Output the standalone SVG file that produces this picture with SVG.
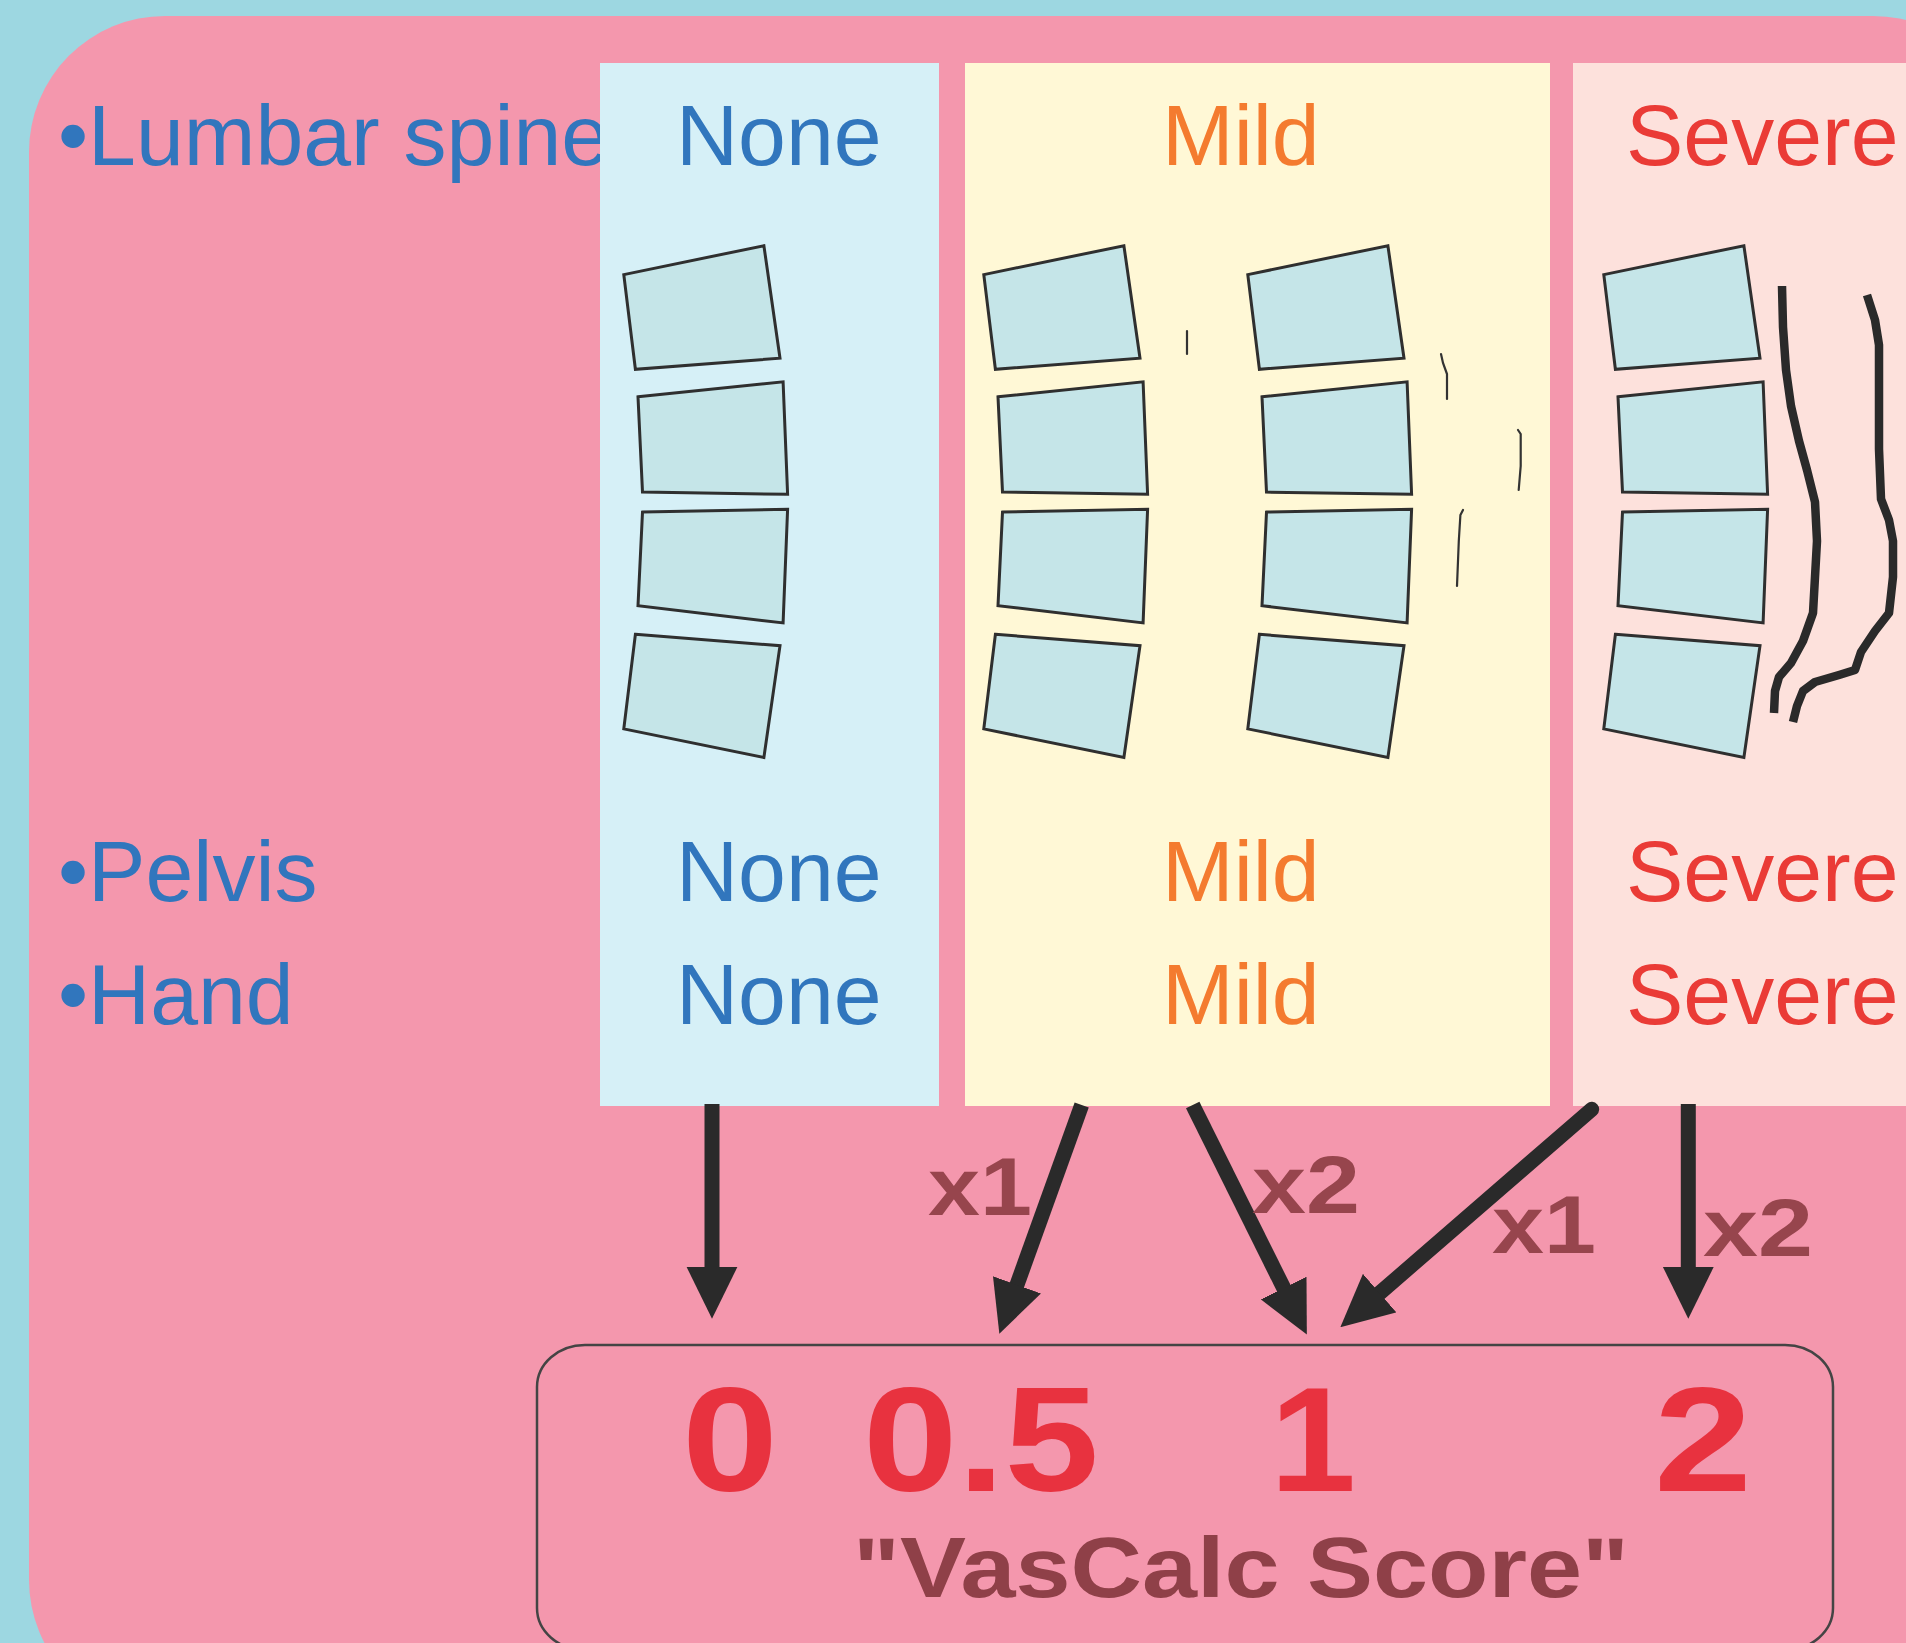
<svg xmlns="http://www.w3.org/2000/svg" xmlns:xlink="http://www.w3.org/1999/xlink" width="1906" height="1643" viewBox="0 0 1906 1643">
  <style>
    .label { font-family: "Liberation Sans", Arial, sans-serif; font-size: 86px; }
    .site { fill: #3176bd; }
    .none { fill: #3176bd; }
    .mild { fill: #f47b2f; }
    .severe { fill: #ea3b36; }
    .vert { fill: #c5e5e8; stroke: #2f2f2f; stroke-width: 3; stroke-linejoin: miter; }
    .fleck { fill: none; stroke: #333; stroke-width: 2.2; stroke-linecap: round; }
    .calc { fill: none; stroke: #2a2a2a; stroke-width: 8.5; stroke-linecap: butt; stroke-linejoin: round; }
    .arrow { fill: none; stroke: #2a2a2a; stroke-width: 15; marker-end: url(#head); }
    .mult { font-family: "Liberation Sans", Arial, sans-serif; font-weight: bold; font-size: 82px; fill: #97454d; }
    .score { font-family: "Liberation Sans", Arial, sans-serif; font-weight: bold; font-size: 148px; fill: #e8323f; text-anchor: middle; }
    .caption { font-family: "Liberation Sans", Arial, sans-serif; font-weight: bold; font-size: 85px; fill: #8f4048; text-anchor: middle; }
  </style>
  <defs>
    <marker id="head" markerUnits="userSpaceOnUse" markerWidth="52" markerHeight="52" viewBox="0 0 50 50" refX="5" refY="25" orient="auto">
      <path d="M0,0.5 L50,25 L0,49.5 Z" fill="#2a2a2a"/>
    </marker>
    <!-- four lumbar vertebrae, drawn relative to x = 600 -->
    <g id="spine">
      <polygon class="vert" points="23.8,274.6 163.9,245.7 180,358.2 35.4,369.3"/>
      <polygon class="vert" points="38,396.8 183.1,381.8 187.6,494.3 42.5,492.1"/>
      <polygon class="vert" points="42.5,512.1 187.6,509.3 183.1,622.9 38,605.7"/>
      <polygon class="vert" points="35.4,634.3 180,645.7 163.9,757.5 23.8,728.9"/>
    </g>
  </defs>

  <!-- backdrop -->
  <rect x="0" y="0" width="1906" height="1643" fill="#9dd7e1"/>
  <rect x="29" y="16" width="1980" height="1700" rx="136" ry="136" fill="#f497ad"/>

  <!-- body sites -->
  <g id="sites">
    <text class="label site" x="58" y="165">•Lumbar spine</text>
    <text class="label site" x="58" y="901">•Pelvis</text>
    <text class="label site" x="58" y="1024">•Hand</text>
  </g>

  <!-- grade: none -->
  <g id="grade-none">
    <rect x="600" y="63" width="339" height="1043" fill="#d6f0f7"/>
    <text class="label none" x="676" y="165">None</text>
    <use xlink:href="#spine" href="#spine" x="600" y="0"/>
    <text class="label none" x="676" y="901">None</text>
    <text class="label none" x="676" y="1024">None</text>
  </g>

  <!-- grade: mild -->
  <g id="grade-mild">
    <rect x="965" y="63" width="585" height="1043" fill="#fff8d6"/>
    <text class="label mild" x="1162" y="165">Mild</text>
    <use xlink:href="#spine" href="#spine" x="960" y="0"/>
    <use xlink:href="#spine" href="#spine" x="1224" y="0"/>
    <path class="fleck" d="M1187,331 L1187,354"/>
    <path class="fleck" d="M1441,354 L1443,363 L1447,374 L1447,399"/>
    <path class="fleck" d="M1518,430 L1520.7,434 L1520.7,466 L1518.7,490"/>
    <path class="fleck" d="M1463,510 L1460.4,515 L1458.8,541 L1457,586"/>
    <text class="label mild" x="1162" y="901">Mild</text>
    <text class="label mild" x="1162" y="1024">Mild</text>
  </g>

  <!-- grade: severe -->
  <g id="grade-severe">
    <rect x="1573" y="63" width="400" height="1043" fill="#fde1dc"/>
    <text class="label severe" x="1626" y="165">Severe</text>
    <use xlink:href="#spine" href="#spine" x="1580" y="0"/>
    <path class="calc" d="M1782,286 L1783,327 L1786,370 L1791,406 L1799,441 L1807,470 L1815,502 L1817,541 L1815,577 L1813,613 L1803,641 L1791,663 L1779,677 L1775,691 L1774,713"/>
    <path class="calc" d="M1867,295 L1875,320 L1879,345 L1879,399 L1879,449 L1881,499 L1889,520 L1893,541 L1893,577 L1889,613 L1875,631 L1861,652 L1855,670 L1839,675 L1815,682 L1803,691 L1797,706 L1793,722"/>
    <text class="label severe" x="1626" y="901">Severe</text>
    <text class="label severe" x="1626" y="1024">Severe</text>
  </g>

  <!-- arrows from each grade to its score -->
  <g id="connectors">
    <path class="arrow" d="M712,1104 L712,1272"/>
    <path class="arrow" d="M1081.7,1105 L1015.2,1289.7"/>
    <path class="arrow" d="M1192.7,1105 L1286,1292.7"/>
    <path class="arrow" d="M1591.7,1109.3 L1375.7,1296.5" stroke-linecap="round"/>
    <path class="arrow" d="M1688.3,1104 L1688.3,1272"/>
  </g>

  <!-- weighting labels -->
  <g id="weights">
    <text class="mult" x="928" y="1215" textLength="104" lengthAdjust="spacingAndGlyphs">x1</text>
    <text class="mult" x="1252" y="1213" textLength="108" lengthAdjust="spacingAndGlyphs">x2</text>
    <text class="mult" x="1492" y="1253" textLength="104" lengthAdjust="spacingAndGlyphs">x1</text>
    <text class="mult" x="1703" y="1256" textLength="110" lengthAdjust="spacingAndGlyphs">x2</text>
  </g>

  <!-- score scale -->
  <g id="score-box">
    <rect x="537" y="1345" width="1296" height="305" rx="48" ry="42" fill="none" stroke="#444" stroke-width="2.5"/>
    <text class="score" x="730" y="1491" textLength="96" lengthAdjust="spacingAndGlyphs">0</text>
    <text class="score" x="981" y="1491" textLength="236" lengthAdjust="spacingAndGlyphs">0.5</text>
    <text class="score" x="1313" y="1491" textLength="86" lengthAdjust="spacingAndGlyphs">1</text>
    <text class="score" x="1703" y="1491" textLength="98" lengthAdjust="spacingAndGlyphs">2</text>
    <text class="caption" x="1241" y="1597" textLength="776" lengthAdjust="spacingAndGlyphs">"VasCalc Score"</text>
  </g>
</svg>
